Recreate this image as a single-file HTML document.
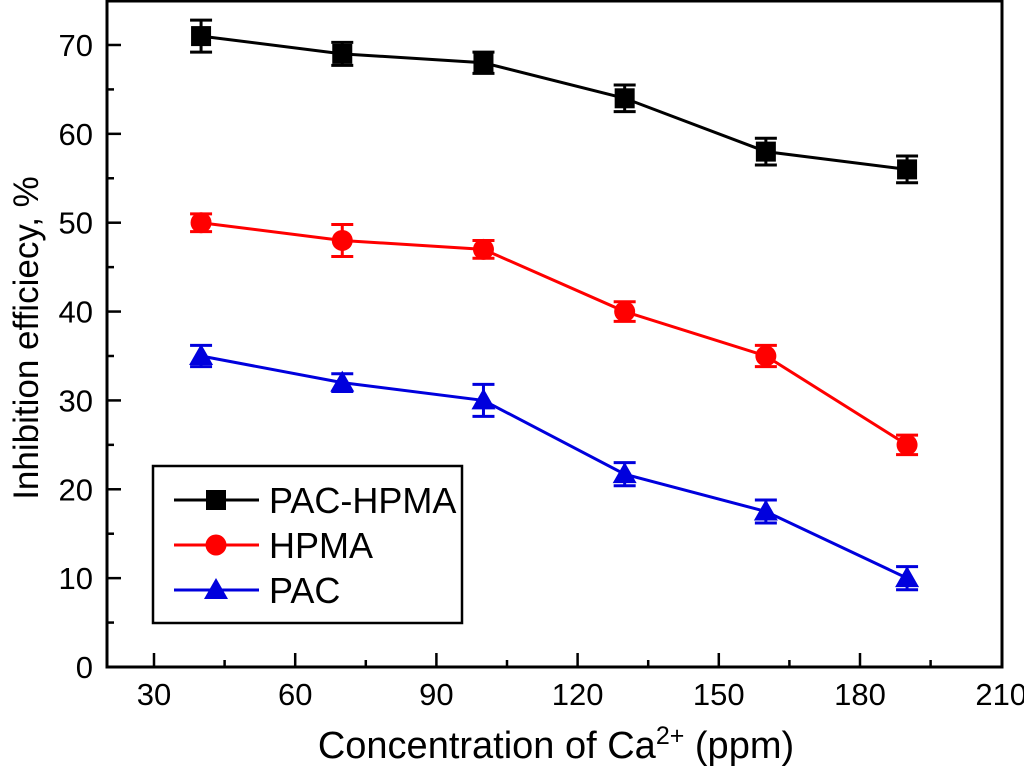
<!DOCTYPE html>
<html><head><meta charset="utf-8"><style>
html,body{margin:0;padding:0;background:#fff;}
svg text{font-family:"Liberation Sans",Arial,sans-serif;fill:#000;}
</style></head><body>
<svg id="chart" width="1024" height="771" xmlns="http://www.w3.org/2000/svg">
<g id="marks"></g>
<rect x="107" y="1" width="895" height="666" fill="none" stroke="#000" stroke-width="3"/>
<g id="axes"></g>
<text transform="translate(38,338) rotate(-90)" text-anchor="middle" font-size="35">Inhibition efficiecy, %</text>
<text x="556" y="758" text-anchor="middle" font-size="38">Concentration of Ca<tspan dy="-14" font-size="25">2+</tspan><tspan dy="14"> (ppm)</tspan></text>
<g>
<rect x="153" y="466" width="309" height="157" fill="#fff" stroke="#000" stroke-width="2.5"/>
<g id="legend-items"></g>
</g>
</svg>
<script>
const categories = [40, 70, 100, 130, 160, 190];
const seriesNames = ["PAC-HPMA", "HPMA", "PAC"];
const pacHpma = [71, 69, 68, 64, 58, 56];
const pacHpmaErr = [1.8, 1.3, 1.2, 1.5, 1.5, 1.5];
const hpma = [50, 48, 47, 40, 35, 25];
const hpmaErr = [1.0, 1.8, 1.0, 1.1, 1.2, 1.1];
const pac = [35, 32, 30, 21.7, 17.5, 10];
const pacErr = [1.2, 1.0, 1.8, 1.3, 1.3, 1.3];
const xTicks = [30, 60, 90, 120, 150, 180, 210];
const yTicks = [0, 10, 20, 30, 40, 50, 60, 70];

const NS = "http://www.w3.org/2000/svg";
const X0 = 154, X30 = 141.2;
function xs(v){ return X0 + (v - 30) / 30 * X30; }
function ys(v){ return 667 - v * 8.886; }
function mk(tag, attrs, parent){
  const e = document.createElementNS(NS, tag);
  for (const k in attrs) e.setAttribute(k, attrs[k]);
  parent.appendChild(e); return e;
}
const axes = document.getElementById('axes');
const marks = document.getElementById('marks');
xTicks.forEach((t, i) => {
  const x = xs(t);
  if (t < 210) {
    const l = mk('line', {x1:x, x2:x, y1:667, y2:653, stroke:'#000', 'stroke-width':2.5}, axes);
    
    
    const m = mk('line', {x1:xs(t+15), x2:xs(t+15), y1:667, y2:660, stroke:'#000', 'stroke-width':2.5}, axes);
    
    
  }
  const tx = mk('text', {x:x, y:705, 'text-anchor':'middle', 'font-size':31}, axes);
  tx.textContent = t;
  
  
});
yTicks.forEach(t => {
  const y = ys(t);
  if (t > 0) {
    const l = mk('line', {x1:107, x2:121, y1:y, y2:y, stroke:'#000', 'stroke-width':2.5}, axes);
    
    
  }
  const m = mk('line', {x1:107, x2:114, y1:ys(t+5), y2:ys(t+5), stroke:'#000', 'stroke-width':2.5}, axes);
  
  
  const tx = mk('text', {x:93, y:y+11, 'text-anchor':'end', 'font-size':31}, axes);
  tx.textContent = t;
  
  
});
function marker(shape, x, y, color, parent){
  let e;
  if (shape === 'square') e = mk('rect', {x:x-10, y:y-10, width:20, height:20, fill:color}, parent);
  else if (shape === 'circle') e = mk('circle', {cx:x, cy:y, r:10.5, fill:color}, parent);
  else e = mk('polygon', {points:`${x},${y-12} ${x+12},${y+9} ${x-12},${y+9}`, fill:color}, parent);
  return e;
}
const series = [
  {vals:pacHpma, err:pacHpmaErr, color:'#000', shape:'square'},
  {vals:hpma, err:hpmaErr, color:'#ff0000', shape:'circle'},
  {vals:pac, err:pacErr, color:'#0000dd', shape:'triangle'}
];
series.forEach((s, si) => {
  const g = mk('g', {}, marks);
  
  
  const pts = categories.map((c, i) => xs(c) + ',' + ys(s.vals[i])).join(' ');
  const pl = mk('polyline', {points:pts, fill:'none', stroke:s.color, 'stroke-width':3}, g);
  
  
  categories.forEach((c, i) => {
    const x = xs(c), y1 = ys(s.vals[i] + s.err[i]), y2 = ys(s.vals[i] - s.err[i]);
    const eb = mk('path', {d:`M${x},${y1}V${y2}M${x-11},${y1}H${x+11}M${x-11},${y2}H${x+11}`, stroke:s.color, 'stroke-width':3, fill:'none'}, g);
    
    
    const m = marker(s.shape, x, ys(s.vals[i]), s.color, g);
    
    
  });
});
const li = document.getElementById('legend-items');
series.forEach((s, si) => {
  const y = 500 + si * 45;
  const g = mk('g', {}, li);
  
  
  mk('line', {x1:174, x2:259, y1:y, y2:y, stroke:s.color, 'stroke-width':3}, g);
  marker(s.shape, 216, y, s.color, g);
  const t = mk('text', {x:269, y:y+13, 'font-size':36}, g);
  t.textContent = seriesNames[si];
});
</script>
</body></html>
